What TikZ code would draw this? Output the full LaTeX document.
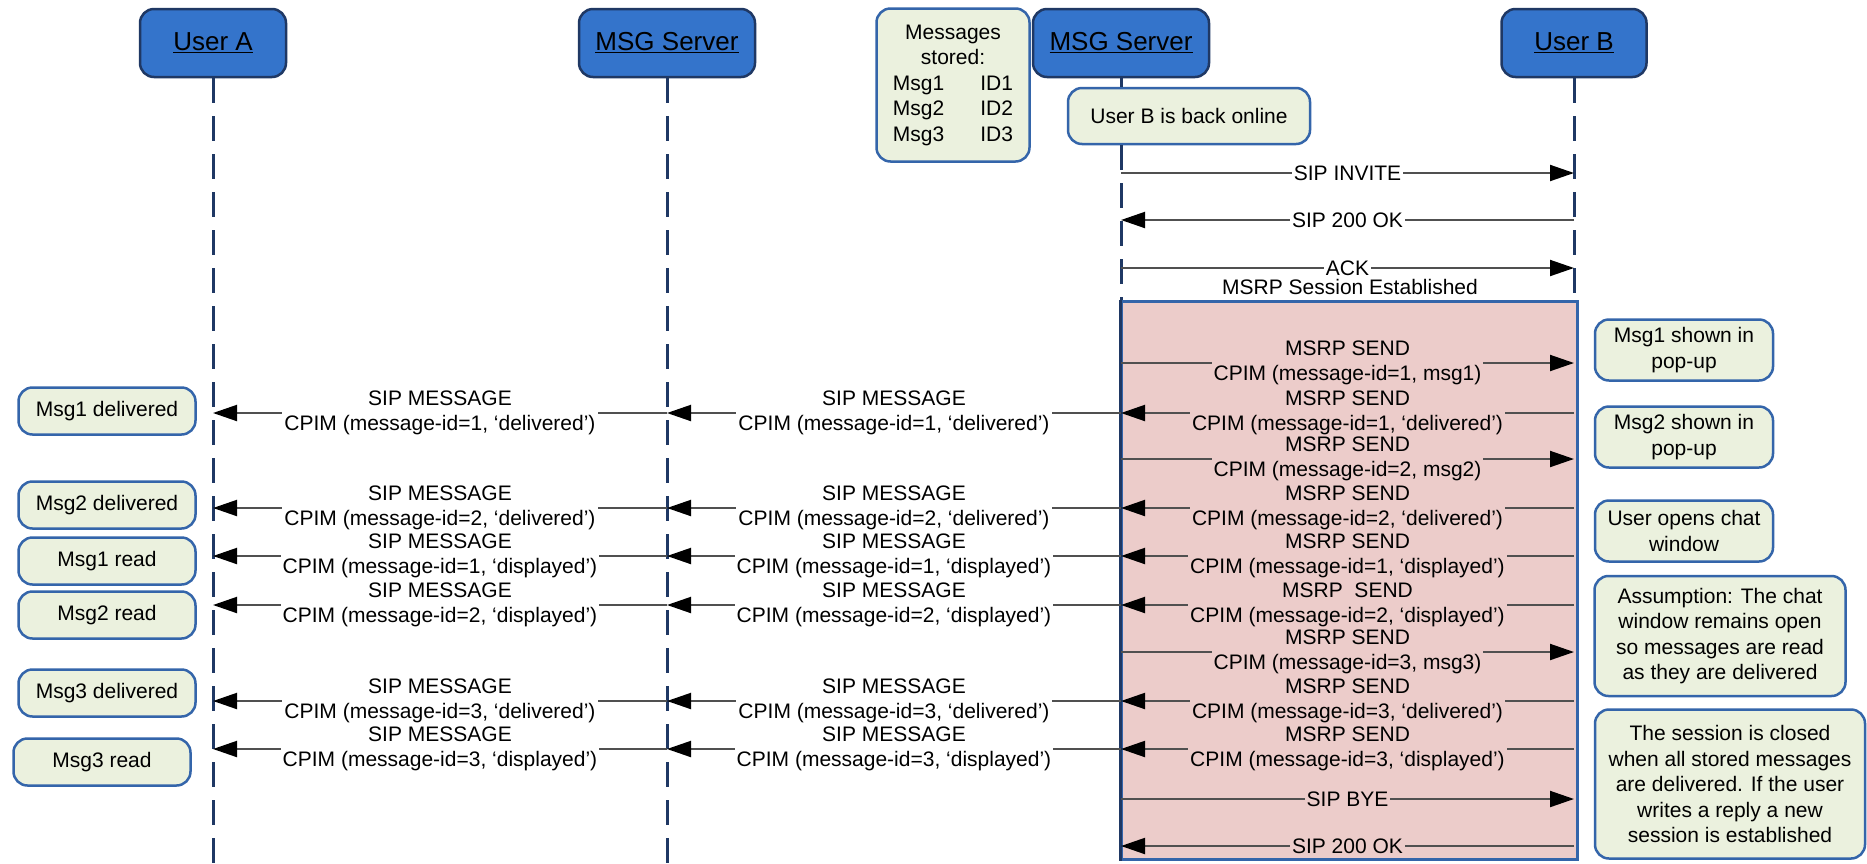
\documentclass[tikz,border=0pt]{standalone}
\usepackage{fontspec}
\setmainfont{Liberation Sans}
\usetikzlibrary{arrows.meta}
\definecolor{hdrfill}{RGB}{52,116,203}
\definecolor{navy}{RGB}{31,56,100}
\definecolor{notefill}{RGB}{235,241,222}
\definecolor{noteline}{RGB}{52,101,170}
\definecolor{pinkbg}{RGB}{236,204,202}
\definecolor{arrowgray}{RGB}{80,80,80}
\begin{document}
\begin{tikzpicture}[x=1pt,y=-1pt,
  hdr/.style={draw=navy, line width=2.5pt, fill=hdrfill, rounded corners=14pt, minimum height=68pt, inner sep=0pt, font=\fontsize{26}{30}\selectfont},
  note/.style={draw=noteline, line width=2.5pt, fill=notefill, rounded corners=14pt, inner sep=0pt, align=center, font=\fontsize{21}{25.5}\selectfont},
  life/.style={draw=navy, line width=3pt, dash pattern=on 25pt off 13pt},
  msg/.style={draw=arrowgray, line width=2pt, -{Triangle[length=24pt,width=16pt,color=black]}},
  lbl/.style={font=\fontsize{21}{25}\selectfont, align=center, inner xsep=2pt, inner ysep=0pt, fill=white},
  plbl/.style={lbl, fill=pinkbg},
]
\useasboundingbox (0,0) rectangle (1867,863);
\fill[white] (0,0) rectangle (1867,863);
% headers
\node[hdr, minimum width=146pt] (A) at (213,43) {\underline{User A}};
\node[hdr, minimum width=176pt] (S1) at (667,43) {\underline{MSG Server}};
\node[hdr, minimum width=176pt] (S2) at (1121,43) {\underline{MSG Server}};
\node[hdr, minimum width=145pt] (B) at (1574,43) {\underline{User B}};
\coordinate (bot) at (0,863);
% lifelines
\draw[life] (A.south) -- (A |- bot);
\draw[life] (S1.south) -- (S1 |- bot);
\node[note, minimum width=153pt, minimum height=153pt] (stored) at (953,85) {Messages\\stored:\\Msg1\hspace{36pt}ID1\\Msg2\hspace{36pt}ID2\\Msg3\hspace{36pt}ID3};
\node[note, minimum width=242pt, minimum height=56pt] (online) at (1189,116) {User B is back online};
\node[draw=noteline, line width=3pt, fill=pinkbg, minimum width=456pt, minimum height=558pt, inner sep=0pt, anchor=north west] (pink) at (1120,300) {};
\draw[navy, line width=3pt] (S2.south) -- (S2 |- online.north);
\draw[life] (S2 |- online.south) -- (S2 |- pink.north);
\draw[life] (B.south) -- (B |- pink.north);
\draw[navy, line width=3pt] (pink.north west) -- (pink.south west);
% row coordinates
\coordinate (yinv) at (0,173);
\coordinate (yok) at (0,220);
\coordinate (yack) at (0,268);
\coordinate (r1) at (0,363);
\coordinate (r2) at (0,413);
\coordinate (r3) at (0,459);
\coordinate (r4) at (0,508);
\coordinate (r5) at (0,556);
\coordinate (r6) at (0,605);
\coordinate (r7) at (0,652);
\coordinate (r8) at (0,701);
\coordinate (r9) at (0,749);
\coordinate (rbye) at (0,799);
\coordinate (rok) at (0,846);
% session setup
\draw[msg] (S2 |- yinv) -- node[lbl]{SIP INVITE} (B |- yinv);
\draw[msg] (B |- yok) -- node[lbl]{SIP 200 OK} (S2 |- yok);
\draw[msg] (S2 |- yack) -- node[lbl]{ACK} (B |- yack);
\node[font=\fontsize{21}{25}\selectfont, inner sep=0pt] (est) at (1350,287) {MSRP Session Established};
% messages
\draw[msg] (S2 |- r1) -- node[plbl]{MSRP SEND\\CPIM (message-id=1, msg1)} (B |- r1);
\draw[msg] (B |- r2) -- node[plbl]{MSRP SEND\\CPIM (message-id=1, ‘delivered’)} (S2 |- r2);
\draw[msg] (S2 |- r2) -- node[lbl]{SIP MESSAGE\\CPIM (message-id=1, ‘delivered’)} (S1 |- r2);
\draw[msg] (S1 |- r2) -- node[lbl]{SIP MESSAGE\\CPIM (message-id=1, ‘delivered’)} (A |- r2);
\draw[msg] (S2 |- r3) -- node[plbl]{MSRP SEND\\CPIM (message-id=2, msg2)} (B |- r3);
\draw[msg] (B |- r4) -- node[plbl]{MSRP SEND\\CPIM (message-id=2, ‘delivered’)} (S2 |- r4);
\draw[msg] (S2 |- r4) -- node[lbl]{SIP MESSAGE\\CPIM (message-id=2, ‘delivered’)} (S1 |- r4);
\draw[msg] (S1 |- r4) -- node[lbl]{SIP MESSAGE\\CPIM (message-id=2, ‘delivered’)} (A |- r4);
\draw[msg] (B |- r5) -- node[plbl]{MSRP SEND\\CPIM (message-id=1, ‘displayed’)} (S2 |- r5);
\draw[msg] (S2 |- r5) -- node[lbl]{SIP MESSAGE\\CPIM (message-id=1, ‘displayed’)} (S1 |- r5);
\draw[msg] (S1 |- r5) -- node[lbl]{SIP MESSAGE\\CPIM (message-id=1, ‘displayed’)} (A |- r5);
\draw[msg] (B |- r6) -- node[plbl]{MSRP\ \ SEND\\CPIM (message-id=2, ‘displayed’)} (S2 |- r6);
\draw[msg] (S2 |- r6) -- node[lbl]{SIP MESSAGE\\CPIM (message-id=2, ‘displayed’)} (S1 |- r6);
\draw[msg] (S1 |- r6) -- node[lbl]{SIP MESSAGE\\CPIM (message-id=2, ‘displayed’)} (A |- r6);
\draw[msg] (S2 |- r7) -- node[plbl]{MSRP SEND\\CPIM (message-id=3, msg3)} (B |- r7);
\draw[msg] (B |- r8) -- node[plbl]{MSRP SEND\\CPIM (message-id=3, ‘delivered’)} (S2 |- r8);
\draw[msg] (S2 |- r8) -- node[lbl]{SIP MESSAGE\\CPIM (message-id=3, ‘delivered’)} (S1 |- r8);
\draw[msg] (S1 |- r8) -- node[lbl]{SIP MESSAGE\\CPIM (message-id=3, ‘delivered’)} (A |- r8);
\draw[msg] (B |- r9) -- node[plbl]{MSRP SEND\\CPIM (message-id=3, ‘displayed’)} (S2 |- r9);
\draw[msg] (S2 |- r9) -- node[lbl]{SIP MESSAGE\\CPIM (message-id=3, ‘displayed’)} (S1 |- r9);
\draw[msg] (S1 |- r9) -- node[lbl]{SIP MESSAGE\\CPIM (message-id=3, ‘displayed’)} (A |- r9);
\draw[msg] (S2 |- rbye) -- node[plbl]{SIP BYE} (B |- rbye);
\draw[msg] (B |- rok) -- node[plbl]{SIP 200 OK} (S2 |- rok);
% left notes
\node[note, minimum width=177pt, minimum height=47pt] (l1) at (107,411) {Msg1 delivered};
\node[note, minimum width=177pt, minimum height=47pt] (l2) at (107,505) {Msg2 delivered};
\node[note, minimum width=177pt, minimum height=47pt] (l3) at (107,561) {Msg1 read};
\node[note, minimum width=177pt, minimum height=47pt] (l4) at (107,615) {Msg2 read};
\node[note, minimum width=177pt, minimum height=47pt] (l5) at (107,693) {Msg3 delivered};
\node[note, minimum width=177pt, minimum height=47pt] (l6) at (102,762) {Msg3 read};
% right notes
\node[note, minimum width=178pt, minimum height=61pt] (n1) at (1684,350) {Msg1 shown in\\pop-up};
\node[note, minimum width=178pt, minimum height=61pt] (n2) at (1684,437) {Msg2 shown in\\pop-up};
\node[note, minimum width=178pt, minimum height=61pt] (n3) at (1684,531) {User opens chat\\window};
\node[note, minimum width=251pt, minimum height=120pt] (n4) at (1720,636) {Assumption: The chat\\window remains open\\so messages are read\\as they are delivered};
\node[note, minimum width=270pt, minimum height=149pt] (n5) at (1730,784) {The session is closed\\when all stored messages\\are delivered. If the user\\writes a reply a new\\session is established};
\end{tikzpicture}
\end{document}
